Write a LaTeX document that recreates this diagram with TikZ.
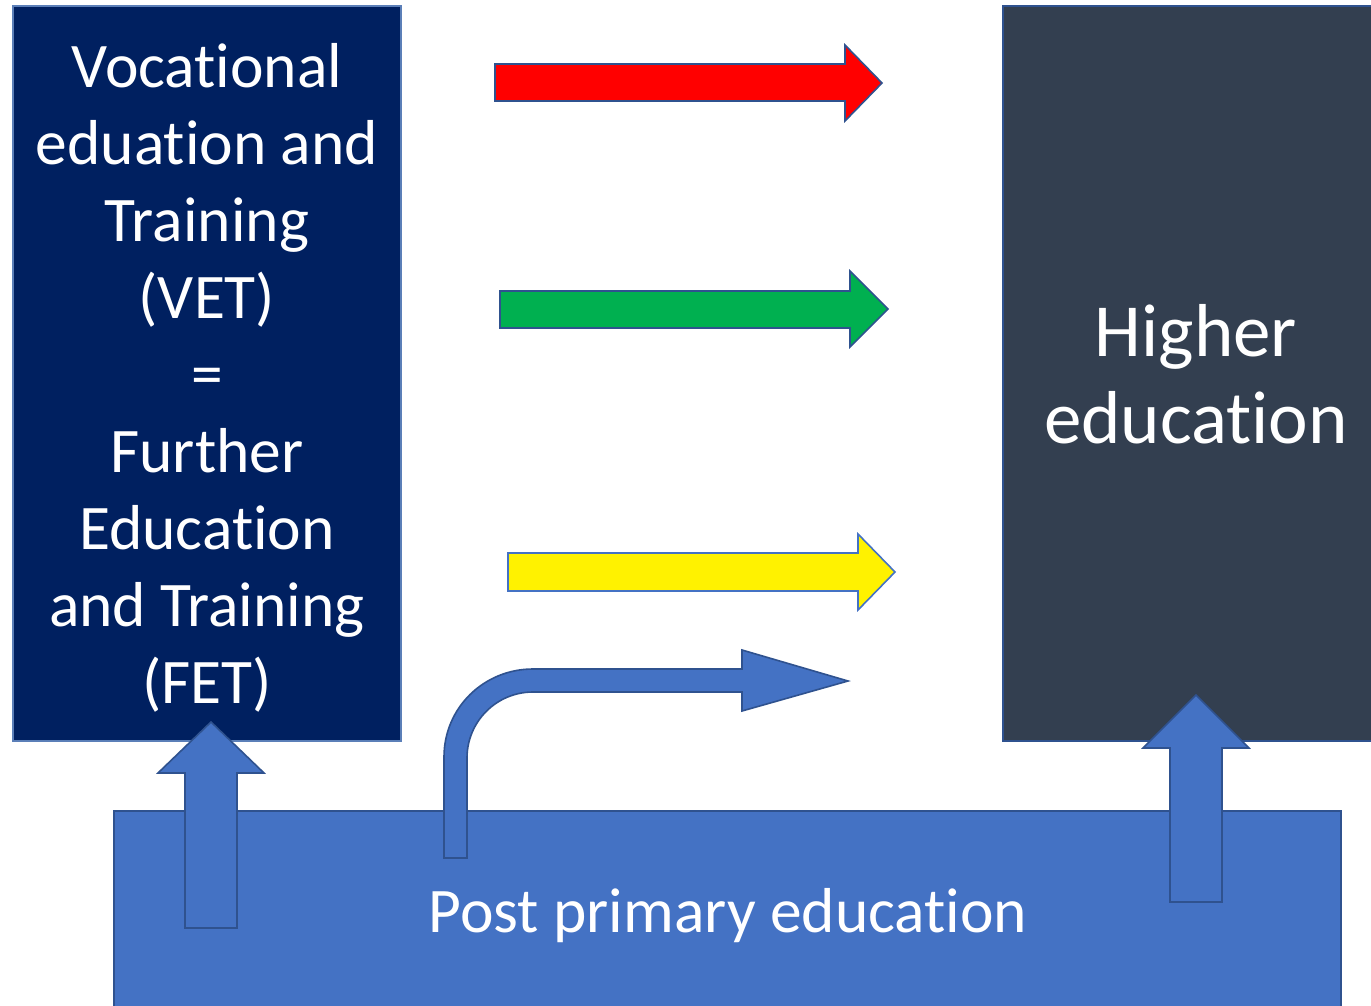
\documentclass[tikz,border=0pt]{standalone}
\usepackage{fontspec}
\setmainfont{Carlito}[Ligatures={NoCommon}]
\definecolor{vetblue}{HTML}{002060}
\definecolor{heslate}{HTML}{333F50}
\definecolor{ppblue}{HTML}{4472C4}
\definecolor{edgeblue}{HTML}{2F528F}
\definecolor{arrgreen}{HTML}{00B050}
\definecolor{vetedge}{HTML}{5B7FB8}
\begin{document}
\begin{tikzpicture}[x=1pt,y=-1pt,
  blockarrow/.style={draw=edgeblue,line width=1.6pt,line join=miter},
  boxtext/.style={text=white,align=center,inner sep=0pt}]
\useasboundingbox (0,0) rectangle (1371,1006);
\fill[white] (0,0) rectangle (1371,1006);
% boxes
\draw[fill=vetblue,draw=vetedge,line width=1.6pt] (13,6) rectangle (401,741);
\draw[fill=heslate,draw=edgeblue,line width=1.6pt] (1003,6) rectangle (1380,741);
\draw[fill=ppblue,draw=edgeblue,line width=1.6pt] (114,811) rectangle (1341,1020);
% texts
\node[boxtext,font=\fontsize{63.5}{77}\selectfont] (vet) at (207,378)
  {Vocational\\eduation and\\Training\\(VET)\\=\\Further\\Education\\and Training\\(FET)};
\node[boxtext,font=\fontsize{75}{87}\selectfont] (he) at (1196,374) {Higher\\education};
\node[boxtext,font=\fontsize{63.5}{70}\selectfont] (pp) at (728,916) {Post primary education};
% horizontal arrows
\draw[blockarrow,fill=red] (495,64) -- (845,64) -- (845,45) -- (882,83) -- (845,121) -- (845,101) -- (495,101) -- cycle;
\draw[blockarrow,fill=arrgreen] (500,291) -- (850,291) -- (850,271) -- (888,309) -- (850,347) -- (850,328) -- (500,328) -- cycle;
\draw[blockarrow,draw=ppblue,fill=yellow] (508,553) -- (858,553) -- (858,534) -- (895,572) -- (858,610) -- (858,591) -- (508,591) -- cycle;
% bent arrow
\draw[blockarrow,fill=ppblue] (444,858) -- (444,757) .. controls (444,707.8) and (483.8,669) .. (533,669)
  -- (742,669) -- (742,650) -- (848,681) -- (742,711) -- (742,692) -- (533,692)
  .. controls (496.5,692) and (467,721.5) .. (467,758) -- (467,858) -- cycle;
% up arrows
\draw[blockarrow,fill=ppblue] (185,928) -- (185,773) -- (158,773) -- (211,722) -- (264,773) -- (237,773) -- (237,928) -- cycle;
\draw[blockarrow,fill=ppblue] (1170,902) -- (1170,748) -- (1143,748) -- (1196,695) -- (1249,748) -- (1222,748) -- (1222,902) -- cycle;
\end{tikzpicture}
\end{document}
